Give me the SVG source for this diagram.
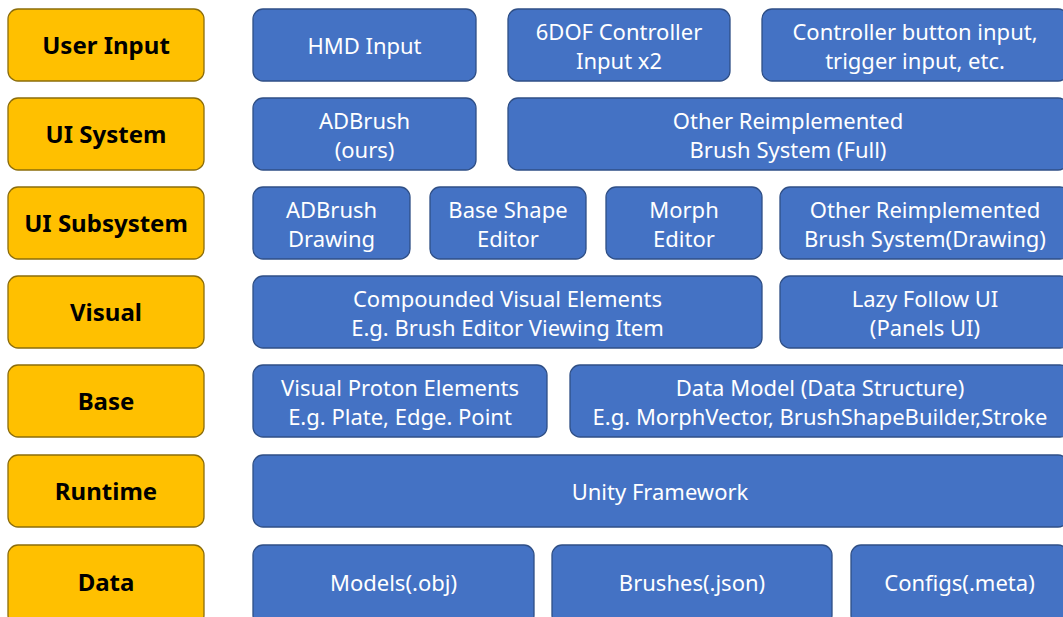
<svg xmlns="http://www.w3.org/2000/svg" width="1063" height="617" viewBox="0 0 1063 617">
<style>
.lab rect{fill:#FFC000;stroke:#8C6D0A;stroke-width:1.3}
.lab text{font-family:"Noto Sans","Liberation Sans",sans-serif;font-weight:bold;font-size:24px;fill:#000;text-anchor:middle;dominant-baseline:central}
.blk rect{fill:#4472C4;stroke:#2F4F86;stroke-width:1.3}
.blk text{font-family:"Noto Sans","Liberation Sans",sans-serif;font-size:22px;fill:#fff;text-anchor:middle;dominant-baseline:central}
</style>
<rect width="1063" height="617" fill="#fff"/>
<g id="labels">
<g id="l-userinput" class="lab"><rect x="8" y="9" width="196" height="72" rx="10"/><text x="106" y="44.5">User Input</text></g>
<g id="l-uisystem" class="lab"><rect x="8" y="98" width="196" height="72" rx="10"/><text x="106" y="133.5">UI System</text></g>
<g id="l-uisubsystem" class="lab"><rect x="8" y="187" width="196" height="72" rx="10"/><text x="106" y="222.5">UI Subsystem</text></g>
<g id="l-visual" class="lab"><rect x="8" y="276" width="196" height="72" rx="10"/><text x="106" y="311.5">Visual</text></g>
<g id="l-base" class="lab"><rect x="8" y="365" width="196" height="72" rx="10"/><text x="106" y="400.5">Base</text></g>
<g id="l-runtime" class="lab"><rect x="8" y="455" width="196" height="72" rx="10"/><text x="106" y="490.5">Runtime</text></g>
<g id="l-data" class="lab"><rect x="8" y="545" width="196" height="80" rx="10"/><text x="106" y="581.5">Data</text></g>
</g>
<g id="hmd" class="blk"><rect x="253" y="9" width="223" height="72" rx="10"/><text x="364.5" y="45">HMD Input</text></g>
<g id="dof" class="blk"><rect x="508" y="9" width="222" height="72" rx="10"/><text x="619" y="31">6DOF Controller</text><text x="619" y="60">Input x2</text></g>
<g id="ctrlbtn" class="blk"><rect x="762" y="9" width="306" height="72" rx="10"/><text x="915" y="31">Controller button input,</text><text x="915" y="60">trigger input, etc.</text></g>
<g id="adbrush" class="blk"><rect x="253" y="98" width="223" height="72" rx="10"/><text x="364.5" y="120">ADBrush</text><text x="364.5" y="149">(ours)</text></g>
<g id="otherfull" class="blk"><rect x="508" y="98" width="560" height="72" rx="10"/><text x="788" y="120">Other Reimplemented</text><text x="788" y="149">Brush System (Full)</text></g>
<g id="adbrushdraw" class="blk"><rect x="253" y="187" width="157" height="72" rx="10"/><text x="331.5" y="209">ADBrush</text><text x="331.5" y="238">Drawing</text></g>
<g id="baseshape" class="blk"><rect x="430" y="187" width="156" height="72" rx="10"/><text x="508" y="209">Base Shape</text><text x="508" y="238">Editor</text></g>
<g id="morph" class="blk"><rect x="606" y="187" width="156" height="72" rx="10"/><text x="684" y="209">Morph</text><text x="684" y="238">Editor</text></g>
<g id="otherdraw" class="blk"><rect x="780" y="187" width="290" height="72" rx="10"/><text x="925" y="209">Other Reimplemented</text><text x="925" y="238">Brush System(Drawing)</text></g>
<g id="compounded" class="blk"><rect x="253" y="276" width="509" height="72" rx="10"/><text x="507.5" y="298">Compounded Visual Elements</text><text x="507.5" y="327">E.g. Brush Editor Viewing Item</text></g>
<g id="lazy" class="blk"><rect x="780" y="276" width="290" height="72" rx="10"/><text x="925" y="298">Lazy Follow UI</text><text x="925" y="327">(Panels UI)</text></g>
<g id="proton" class="blk"><rect x="253" y="365" width="294" height="72" rx="10"/><text x="400" y="387">Visual Proton Elements</text><text x="400" y="416">E.g. Plate, Edge. Point</text></g>
<g id="datamodel" class="blk"><rect x="570" y="365" width="500" height="72" rx="10"/><text x="820" y="387">Data Model (Data Structure)</text><text x="820" y="416">E.g. MorphVector, BrushShapeBuilder,Stroke</text></g>
<g id="unity" class="blk"><rect x="253" y="455" width="815" height="72" rx="10"/><text x="660" y="491">Unity Framework</text></g>
<g id="models" class="blk"><rect x="253" y="545" width="281" height="80" rx="10"/><text x="393.5" y="582">Models(.obj)</text></g>
<g id="brushes" class="blk"><rect x="552" y="545" width="280" height="80" rx="10"/><text x="692" y="582">Brushes(.json)</text></g>
<g id="configs" class="blk"><rect x="851" y="545" width="217" height="80" rx="10"/><text x="959.5" y="582">Configs(.meta)</text></g>
<g id="connectors"></g>
</svg>
